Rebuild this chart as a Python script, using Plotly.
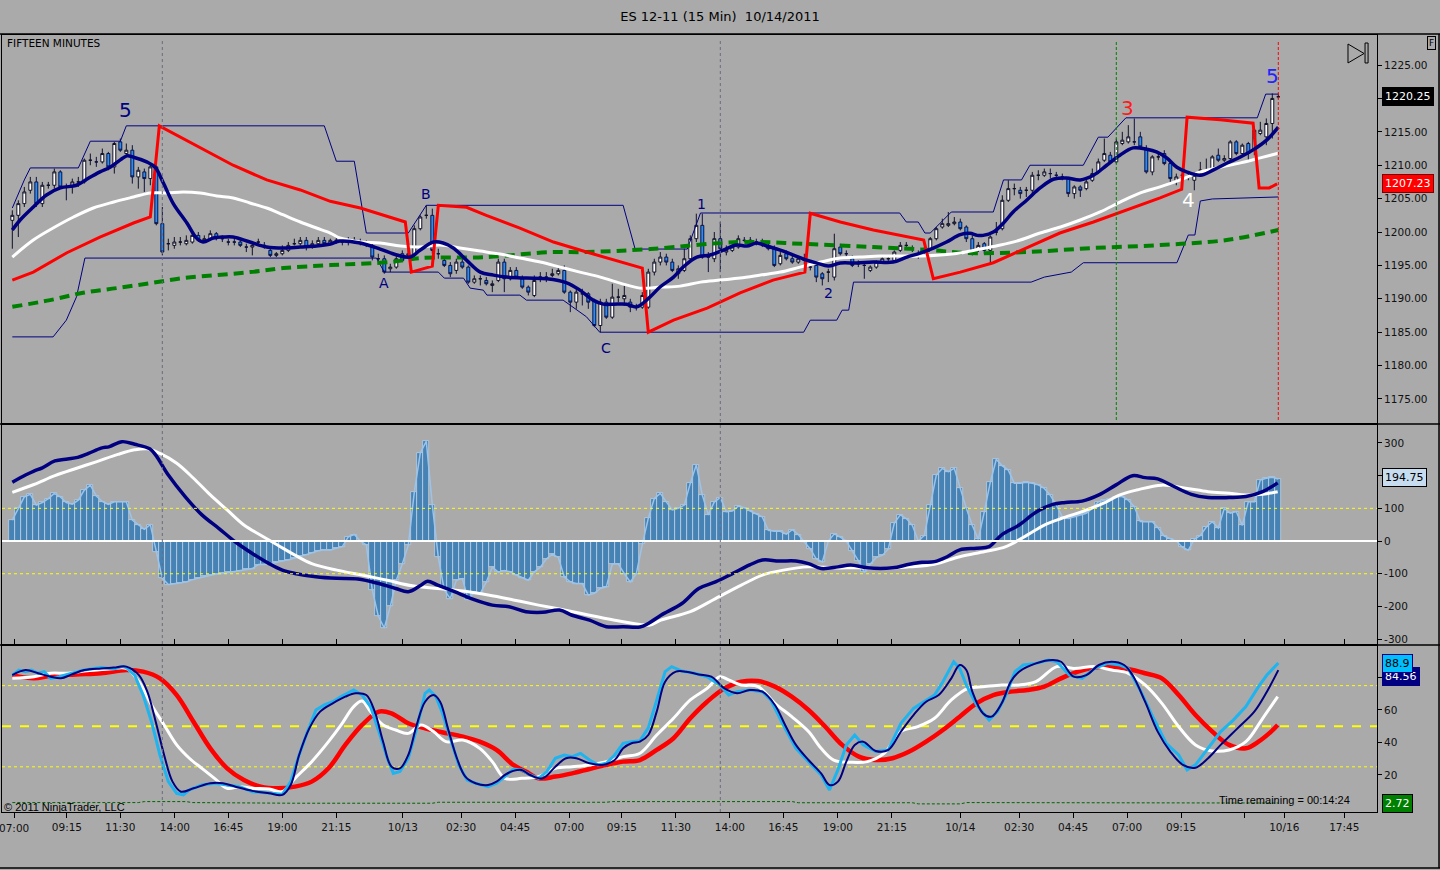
import plotly.graph_objects as go

# ---------------- data (x = 15-minute bar number) ----------------
bar_open = [
    1201.75, 1202.5, 1204.25, 1206.25, 1207.5, 1204.25, 1207.0, 1207.0, 1209.0, 1206.75,
    1207.0, 1207.5, 1207.5, 1210.75, 1210.5, 1210.5, 1211.75, 1209.75, 1213.5, 1211.75,
    1212.25, 1208.25, 1209.0, 1208.0, 1209.75, 1201.25, 1198.25, 1198.0, 1198.5, 1198.25,
    1198.5, 1199.5, 1198.75, 1199.0, 1199.75, 1199.0, 1198.5, 1198.5, 1198.5, 1197.75,
    1197.75, 1198.5, 1198.0, 1197.25, 1196.5, 1196.75, 1197.25, 1198.25, 1198.25, 1198.75,
    1197.75, 1198.25, 1198.75, 1198.25, 1198.75, 1198.5, 1198.5, 1198.75, 1198.5, 1198.25,
    1198.0, 1196.0, 1196.0, 1194.5, 1194.75, 1196.75, 1196.5, 1196.5, 1200.5, 1202.5,
    1202.5, 1196.75, 1195.75, 1195.0, 1194.25, 1195.5, 1194.75, 1192.5, 1193.0, 1192.75,
    1192.0, 1192.75, 1195.5, 1193.0, 1194.25, 1193.0, 1191.75, 1190.5, 1193.25, 1193.25,
    1193.5, 1193.75, 1194.25, 1191.0, 1189.5, 1190.75, 1190.75, 1189.75, 1186.0, 1189.5,
    1187.25, 1190.25, 1190.0, 1189.5, 1188.75, 1188.75, 1188.75, 1194.0, 1195.5, 1196.25,
    1195.5, 1193.75, 1194.25, 1196.0, 1199.0, 1201.0, 1196.25, 1196.0, 1199.0, 1197.0,
    1197.25, 1197.75, 1198.75, 1198.75, 1198.5, 1198.25, 1198.0, 1197.5, 1195.25, 1196.75,
    1196.0, 1195.5, 1195.75, 1194.75, 1195.0, 1193.75, 1194.0, 1193.25, 1197.75, 1196.75,
    1196.0, 1195.25, 1195.0, 1194.25, 1194.75, 1195.5, 1196.0, 1195.75, 1197.25, 1198.0,
    1197.5, 1196.75, 1197.25, 1197.5, 1199.0, 1200.75, 1201.0, 1201.25, 1201.5, 1200.75,
    1199.0, 1197.5, 1198.25, 1197.25, 1200.0, 1200.5, 1204.75, 1206.5, 1206.25, 1206.25,
    1206.25, 1208.5, 1208.5, 1208.75, 1208.5, 1208.25, 1208.0, 1205.75, 1206.75, 1206.5,
    1207.75, 1209.0, 1210.75, 1211.5, 1210.5, 1213.25, 1213.5, 1213.5, 1214.25, 1212.5,
    1209.0, 1211.25, 1211.75, 1210.25, 1207.75, 1208.5, 1208.25, 1207.75, 1209.25, 1209.25,
    1209.5, 1211.5, 1210.75, 1211.0, 1213.5, 1211.75, 1213.25, 1212.25, 1214.75, 1214.25,
    1216.25, 1220.25,
]
bar_high = [
    1203.25, 1204.75, 1206.75, 1208.25, 1208.25, 1207.5, 1207.5, 1209.5, 1209.25, 1207.25,
    1208.0, 1208.25, 1211.0, 1211.75, 1211.25, 1212.5, 1212.0, 1213.5, 1214.0, 1213.25,
    1213.0, 1209.75, 1209.5, 1210.25, 1210.5, 1203.75, 1199.0, 1199.25, 1199.25, 1199.5,
    1200.0, 1200.0, 1199.5, 1200.25, 1200.0, 1199.5, 1199.0, 1199.0, 1198.75, 1198.25,
    1198.5, 1199.0, 1198.5, 1197.75, 1197.0, 1198.0, 1198.5, 1199.0, 1199.25, 1199.25,
    1198.75, 1199.25, 1199.25, 1199.0, 1199.25, 1199.0, 1199.25, 1199.25, 1199.0, 1198.75,
    1198.25, 1196.75, 1196.5, 1195.25, 1196.5, 1197.25, 1197.25, 1201.0, 1202.5, 1204.0,
    1203.5, 1197.5, 1196.25, 1195.5, 1196.0, 1196.0, 1195.0, 1193.5, 1193.5, 1193.25,
    1192.75, 1196.0, 1196.0, 1194.75, 1194.75, 1193.5, 1192.0, 1193.5, 1194.0, 1194.0,
    1194.5, 1194.75, 1195.0, 1191.25, 1191.5, 1191.5, 1191.0, 1190.0, 1190.0, 1190.0,
    1192.25, 1191.5, 1192.0, 1190.0, 1189.25, 1191.0, 1194.5, 1196.0, 1197.0, 1196.75,
    1196.0, 1195.0, 1197.5, 1199.5, 1202.75, 1202.75, 1197.0, 1200.0, 1201.5, 1198.0,
    1198.25, 1199.5, 1199.25, 1199.25, 1199.0, 1199.0, 1198.5, 1198.0, 1197.0, 1197.25,
    1196.5, 1196.25, 1196.75, 1195.25, 1195.5, 1194.0, 1194.5, 1199.75, 1198.25, 1197.25,
    1196.5, 1195.75, 1195.5, 1195.0, 1195.75, 1196.25, 1196.5, 1197.25, 1198.5, 1198.5,
    1198.0, 1197.25, 1197.75, 1199.25, 1200.75, 1202.0, 1203.0, 1202.25, 1202.0, 1201.0,
    1199.5, 1198.5, 1198.5, 1199.5, 1201.5, 1205.5, 1207.75, 1207.25, 1206.75, 1206.75,
    1209.0, 1209.25, 1209.5, 1209.5, 1209.0, 1208.75, 1208.25, 1207.0, 1207.0, 1208.0,
    1209.5, 1211.0, 1214.0, 1212.0, 1214.0, 1215.0, 1216.0, 1217.0, 1215.0, 1213.0,
    1211.5, 1212.0, 1212.25, 1210.5, 1208.75, 1209.0, 1208.75, 1209.0, 1210.5, 1211.0,
    1211.5, 1212.5, 1211.5, 1213.75, 1213.75, 1213.25, 1213.5, 1215.75, 1216.5, 1217.0,
    1220.75, 1220.75,
]
bar_low = [
    1197.5, 1199.25, 1203.75, 1205.75, 1203.75, 1203.75, 1206.5, 1206.5, 1206.5, 1204.75,
    1205.75, 1206.75, 1207.25, 1210.0, 1209.75, 1210.25, 1209.25, 1208.75, 1212.0, 1211.5,
    1207.25, 1206.5, 1206.0, 1207.0, 1201.0, 1196.5, 1197.25, 1197.5, 1198.0, 1198.0,
    1198.25, 1198.5, 1198.5, 1198.75, 1198.75, 1198.5, 1198.0, 1198.0, 1197.75, 1197.0,
    1196.5, 1198.0, 1197.5, 1196.25, 1196.25, 1196.5, 1197.0, 1198.0, 1198.0, 1197.25,
    1197.5, 1198.0, 1198.0, 1198.0, 1198.25, 1198.0, 1198.0, 1198.25, 1198.0, 1197.75,
    1195.75, 1195.5, 1193.75, 1194.0, 1194.5, 1195.5, 1196.0, 1196.25, 1200.25, 1202.0,
    1196.75, 1196.0, 1194.75, 1193.25, 1193.75, 1194.5, 1192.25, 1192.25, 1192.0, 1192.0,
    1191.0, 1192.5, 1191.0, 1192.75, 1193.0, 1191.5, 1190.5, 1190.25, 1192.5, 1192.5,
    1193.25, 1193.5, 1190.75, 1188.0, 1188.5, 1189.0, 1188.5, 1185.75, 1185.0, 1187.0,
    1187.0, 1189.5, 1189.0, 1188.0, 1188.25, 1188.5, 1188.5, 1193.5, 1195.0, 1195.0,
    1194.0, 1193.0, 1194.0, 1195.75, 1198.5, 1196.0, 1194.0, 1195.5, 1194.0, 1196.5,
    1197.0, 1197.5, 1198.5, 1198.25, 1198.0, 1197.75, 1197.25, 1194.75, 1195.0, 1195.75,
    1195.25, 1195.25, 1195.0, 1194.25, 1192.5, 1192.0, 1192.5, 1192.75, 1196.5, 1196.25,
    1194.75, 1194.75, 1193.0, 1194.0, 1194.5, 1195.25, 1195.5, 1195.5, 1197.0, 1197.5,
    1197.0, 1196.0, 1196.75, 1197.25, 1198.75, 1200.5, 1200.75, 1201.0, 1200.25, 1198.5,
    1196.5, 1197.0, 1196.75, 1195.25, 1199.5, 1200.25, 1204.5, 1205.5, 1205.0, 1205.25,
    1205.75, 1207.75, 1208.25, 1208.0, 1208.0, 1207.75, 1205.25, 1205.0, 1205.25, 1206.25,
    1207.5, 1208.75, 1210.5, 1210.25, 1210.25, 1213.0, 1213.25, 1213.0, 1212.5, 1208.75,
    1208.5, 1210.75, 1210.0, 1207.25, 1207.0, 1207.0, 1207.75, 1206.25, 1208.75, 1208.75,
    1209.25, 1210.5, 1210.5, 1210.75, 1211.5, 1211.5, 1210.5, 1211.5, 1214.5, 1213.0,
    1214.0, 1220.0,
]
bar_close = [
    1202.5, 1204.25, 1206.0, 1207.5, 1204.25, 1207.0, 1207.0, 1209.0, 1206.75, 1206.75,
    1207.5, 1207.5, 1210.75, 1210.75, 1210.5, 1211.75, 1209.75, 1213.25, 1212.25, 1212.25,
    1208.25, 1209.25, 1208.0, 1209.75, 1201.25, 1197.0, 1198.25, 1198.5, 1198.5, 1198.75,
    1199.5, 1198.75, 1199.0, 1199.75, 1199.0, 1199.0, 1198.5, 1198.5, 1198.0, 1197.75,
    1198.0, 1198.5, 1198.0, 1196.5, 1196.75, 1197.25, 1198.0, 1198.25, 1198.75, 1197.75,
    1198.25, 1198.75, 1198.25, 1198.75, 1198.75, 1198.5, 1198.5, 1198.75, 1198.5, 1198.25,
    1196.25, 1196.0, 1194.0, 1194.75, 1196.0, 1195.75, 1196.75, 1200.5, 1202.25, 1202.5,
    1197.25, 1196.75, 1195.0, 1193.75, 1195.5, 1194.75, 1192.5, 1193.0, 1193.0, 1192.25,
    1192.25, 1195.5, 1193.0, 1194.25, 1193.25, 1191.75, 1191.0, 1192.75, 1193.25, 1193.25,
    1193.75, 1194.25, 1191.0, 1189.5, 1191.0, 1190.75, 1189.5, 1186.0, 1189.5, 1187.25,
    1190.25, 1190.25, 1190.5, 1188.75, 1188.75, 1190.5, 1194.0, 1195.5, 1196.25, 1195.5,
    1194.25, 1194.5, 1196.0, 1199.0, 1201.0, 1196.25, 1196.25, 1199.0, 1197.5, 1197.25,
    1197.75, 1199.0, 1198.75, 1198.75, 1198.5, 1198.25, 1197.5, 1195.0, 1196.5, 1196.0,
    1195.5, 1196.0, 1195.75, 1194.75, 1193.25, 1193.0, 1194.0, 1197.5, 1196.75, 1196.75,
    1195.0, 1195.25, 1195.0, 1194.75, 1195.5, 1196.0, 1196.0, 1197.0, 1198.0, 1198.0,
    1197.5, 1196.75, 1197.25, 1199.0, 1200.5, 1201.25, 1201.25, 1201.5, 1200.5, 1199.0,
    1197.25, 1198.0, 1197.25, 1199.25, 1200.0, 1204.75, 1206.5, 1206.5, 1205.75, 1206.25,
    1208.5, 1208.5, 1209.0, 1208.75, 1208.5, 1208.25, 1205.75, 1206.75, 1206.25, 1207.5,
    1208.75, 1210.5, 1211.75, 1210.5, 1213.5, 1213.75, 1214.25, 1213.5, 1212.75, 1209.0,
    1211.25, 1211.25, 1210.25, 1208.0, 1208.25, 1208.5, 1208.25, 1208.5, 1209.25, 1209.25,
    1211.25, 1210.75, 1211.0, 1213.5, 1211.75, 1213.0, 1211.75, 1215.25, 1215.25, 1216.25,
    1220.0, 1220.25,
]
bars = list(range(len(bar_close)))

# fast EMA (navy)
ema_x = [0, 1.3, 3.5, 5.7, 8, 10.7, 12.4, 14.6, 16.3, 18, 19.1, 20.2, 22.4, 23.8, 25.2, 26.8, 29.1,
         30.7, 31.8, 33.5, 35.2, 36.8, 39.6, 42.4, 45.2, 48, 50.7, 53, 54.6, 58, 61.3, 64.1, 66.3,
         68, 70.2, 71.8, 73.5, 75.7, 78, 80.2, 82.4, 85.7, 89.1, 92.4, 94.6, 96.8, 98.5, 100.2,
         102.4, 104.1, 106.3, 108, 110.2, 111.8, 114.1, 116.3, 118.5, 120.7, 122.4, 124.1, 125.7,
         128, 130.2, 132.4, 134.1, 136, 138, 140.7, 143.5, 146.8, 149.1, 151.3, 153.5, 155.7, 158,
         159.6, 160.8, 161.8, 163.5, 165.2, 166.8, 169.1, 171.3, 173.5, 175.7, 178, 180.2, 182.4,
         184.6, 186.8, 189.1, 190.7, 192.4, 194.1, 195.7, 198, 200.2, 202.4, 204.6, 206.8, 209.1, 211]
ema_y = [1200.3, 1201.8, 1203.75, 1205.55, 1206.6, 1207.0, 1207.9, 1209.0, 1209.7, 1210.8, 1211.4,
         1211.2, 1210.5, 1209.7, 1207.3, 1204.3, 1201.35, 1199.1, 1198.5, 1199.1, 1199.25, 1199.25,
         1198.5, 1197.75, 1197.6, 1197.75, 1197.9, 1198.2, 1198.65, 1198.35, 1197.45, 1196.55,
         1196.25, 1197.3, 1198.5, 1198.35, 1197.6, 1195.8, 1194.0, 1193.55, 1193.25, 1193.1, 1193.0,
         1192.4, 1191.3, 1189.8, 1189.2, 1189.2, 1189.2, 1188.8, 1190.3, 1191.8, 1193.25, 1194.75,
         1196.25, 1196.55, 1197.3, 1198.05, 1197.9, 1198.35, 1197.9, 1197.3, 1196.55, 1195.8,
         1195.35, 1194.9, 1195.35, 1195.35, 1195.5, 1195.5, 1196.25, 1196.85, 1197.6, 1198.5,
         1199.6, 1199.8, 1199.5, 1199.5, 1200.0, 1201.35, 1203.0, 1204.8, 1206.6, 1207.9, 1208.1,
         1207.8, 1208.5, 1210.0, 1211.5, 1212.6, 1212.4, 1212.0, 1211.1, 1209.7, 1209.0, 1208.5,
         1209.3, 1210.3, 1211.2, 1212.3, 1213.8, 1215.7]

# slower average (white)
sma_x = [0, 3.5, 6.8, 10.2, 13.5, 16.9, 20.2, 23, 25.7, 28.5, 31.3, 34.1, 36.8, 39.6, 42.4, 45.2, 48,
         50.7, 53, 54.6, 58, 61.3, 64.7, 68, 71.3, 74.6, 78, 81.3, 84.6, 88, 91.3, 94.6, 98, 101.3,
         104.6, 108, 111.3, 114.7, 118, 121.3, 124.7, 128, 131.3, 134.7, 138, 141.3, 144.7, 148,
         151.3, 154.7, 158, 161.3, 164.7, 168, 171.3, 174.7, 178, 181.3, 184.7, 188, 191.3, 194.7,
         198, 201.3, 204.7, 208, 211]
sma_y = [1196.25, 1198.8, 1200.6, 1202.25, 1203.6, 1204.5, 1205.25, 1205.85, 1205.85, 1206.0,
         1205.85, 1205.4, 1205.1, 1204.35, 1203.6, 1202.55, 1201.5, 1200.6, 1199.85, 1199.1, 1198.5,
         1198.35, 1197.9, 1197.75, 1198.05, 1197.6, 1197.15, 1196.7, 1196.1, 1195.5, 1194.75, 1194.0,
         1193.25, 1192.35, 1191.6, 1191.75, 1191.9, 1192.5, 1192.8, 1193.1, 1193.55, 1194.0, 1194.75,
         1195.5, 1196.1, 1196.25, 1196.4, 1196.4, 1196.4, 1196.55, 1196.85, 1197.45, 1198.05, 1198.8,
         1199.85, 1200.75, 1201.8, 1203.0, 1204.5, 1205.85, 1206.75, 1207.8, 1209.0, 1209.7,
         1210.35, 1211.1, 1211.8]

# long average (green dashed)
slow_x = [0, 6.3, 11.8, 17.4, 23, 28.5, 34.1, 39.6, 45.2, 53, 63, 68, 79, 89.6, 95.7, 106.3, 121.3,
          132.4, 143.5, 153, 159, 169, 180, 191.3, 202.4, 211]
slow_y = [1188.8, 1189.8, 1190.9, 1191.6, 1192.35, 1193.1, 1193.55, 1194.0, 1194.6, 1195.05, 1195.5,
          1196.1, 1196.25, 1197.0, 1197.0, 1197.45, 1198.5, 1198.2, 1197.75, 1197.3, 1196.85, 1197.0,
          1197.6, 1198.05, 1198.8, 1200.3]

# trailing stop (red)
stop_x = [0, 3.5, 9.1, 14.6, 20.2, 23, 24.5, 31.3, 36.8, 42.4, 48, 53, 58, 65.5, 66.5, 70, 71, 75.7,
          79, 84.6, 90.2, 95.7, 101.3, 105, 106, 110.2, 115.8, 121.3, 126.8, 132.1, 133, 138, 143.5,
          149.1, 151.9, 153.5, 158, 163.5, 169, 174.6, 180.2, 185.7, 191.3, 194.9, 195.8, 201.3,
          206.8, 207.8, 209.5, 210.8]
stop_y = [1192.8, 1194.0, 1196.9, 1199.25, 1201.35, 1202.25, 1215.9, 1212.7, 1210.0, 1207.8, 1206.3,
          1204.6, 1203.6, 1201.5, 1194.0, 1194.9, 1204.0, 1203.7, 1202.5, 1200.6, 1198.5, 1197.0,
          1195.5, 1194.6, 1185.0, 1186.8, 1188.6, 1190.9, 1192.8, 1194.0, 1202.8, 1201.5, 1200.3,
          1199.25, 1198.8, 1193.0, 1194.0, 1195.4, 1197.6, 1199.85, 1201.5, 1203.3, 1205.1, 1206.4,
          1217.2, 1216.8, 1216.3, 1206.6, 1206.6, 1207.2]

# price channel (thin navy)
upper_x = [0, 2, 3, 11, 13, 18, 19, 52, 54, 57, 59, 66, 69, 101.8, 103.8, 112.5, 114.7, 147.9, 149,
           151, 152.1, 153, 154, 156.5, 163.5, 165.2, 168.2, 169.6, 178.5, 181, 182.6, 185.6, 207.5,
           208.9, 211]
upper_y = [1203.6, 1207.8, 1209.6, 1209.6, 1213.6, 1213.6, 1215.9, 1215.9, 1210.6, 1210.6, 1199.85,
           1199.85, 1204.0, 1204.0, 1197.45, 1197.45, 1202.85, 1202.85, 1201.5, 1201.5, 1199.85,
           1199.85, 1200.75, 1203.0, 1203.0, 1207.8, 1207.8, 1210.0, 1210.0, 1214.2, 1214.2, 1217.1,
           1217.1, 1220.65, 1220.65]
lower_x = [0, 6.8, 9, 10.7, 12.1, 60.7, 62, 71, 72, 75.2, 76.3, 78.5, 79.1, 84.6, 85.7, 91.8, 95.7,
           97.9, 131.9, 133, 137.4, 138.3, 139.4, 140.2, 169.8, 172, 176.5, 178.5, 194.1, 196, 197.1,
           198, 200, 211]
lower_y = [1184.3, 1184.3, 1186.8, 1190.3, 1196.1, 1196.1, 1194.0, 1194.0, 1193.1, 1193.1, 1191.6,
           1191.3, 1190.55, 1190.55, 1189.8, 1189.8, 1187.3, 1185.0, 1185.0, 1186.8, 1186.8, 1188.3,
           1188.3, 1192.5, 1192.5, 1193.25, 1194.0, 1195.4, 1195.4, 1199.55, 1199.55, 1204.65,
           1204.95, 1205.25]

# oscillator histogram, one value per bar
osc_hist = [
    64, 100, 135, 143, 110, 118, 130, 146, 135, 118,
    113, 125, 156, 171, 138, 121, 112, 120, 120, 120,
    64, 50, 36, 50, -33, -114, -133, -131, -128, -125,
    -118, -114, -108, -104, -101, -99, -96, -94, -90, -86,
    -84, -72, -72, -70, -65, -62, -57, -53, -47, -43,
    -37, -30, -27, -27, -22, -17, 13, 20, 0, -12,
    -150, -230, -266, -200, -120, -70, -12, 150, 270, 305,
    110, -50, -150, -176, -120, -115, -180, -155, -160, -125,
    -80, -95, -90, -94, -104, -112, -120, -94, -80, -55,
    -40, -50, -110, -125, -130, -130, -165, -160, -145, -140,
    -70, -70, -100, -125, -100, -10, 70, 130, 146, 120,
    95, 100, 110, 177, 233, 141, 80, 120, 133, 90,
    92, 107, 102, 92, 82, 74, 33, 30, 30, 21,
    35, 20, -3, -24, -55, -64, 0, 22, 12, 0,
    -30, -60, -95, -70, -50, -44, -24, 55, 80, 69,
    48, 0, 17, 110, 202, 222, 212, 222, 161, 100,
    48, 5, 90, 180, 250, 230, 217, 177, 177, 180,
    177, 172, 161, 140, 110, 74, 69, 74, 80, 85,
    100, 120, 125, 130, 136, 136, 125, 105, 60, 59,
    59, 40, 15, 7, 0, -19, -28, 5, 17, 43,
    59, 40, 100, 85, 90, 48, 120, 120, 187, 192,
    195, 190,
]
osc_fast_x = [0, 2.2, 3.6, 5, 7.1, 9.2, 10.9, 12.7, 14.8, 16.2, 18.3, 20.4, 22.9, 23.9, 26, 28.8, 31.6,
              34.4, 37.2, 40, 42.8, 45, 47.1, 50.6, 54.1, 57.6, 61.1, 63.9, 66, 68.1, 69.2, 70.9,
              73.7, 76.5, 80, 82.8, 85.6, 88.4, 91.2, 93.3, 96.2, 99, 101.8, 104.6, 106, 108.1, 111.6,
              114.4, 117.2, 120.1, 122.9, 125, 127.8, 130.6, 132.7, 134.8, 137.6, 139.7, 142.5, 146.7,
              149.5, 151.6, 153.7, 155.8, 157.9, 160.7, 162.8, 164.9, 167.8, 170.6, 173.4, 175.5,
              178.3, 181.1, 183.9, 186.7, 188.8, 190.9, 193.7, 196.5, 199.3, 202.8, 205.6, 208.4, 210.9]
osc_fast_y = [180, 202, 214, 224, 245, 251, 256, 268, 284, 289, 304, 296, 282, 263, 202, 136, 80, 39,
              -3, -38, -69, -89, -99, -109, -114, -116, -130, -145, -155, -135, -123, -135, -155,
              -176, -196, -201, -216, -218, -211, -227, -242, -262, -262, -263, -252, -227, -191,
              -145, -125, -99, -73, -58, -61, -61, -69, -84, -79, -73, -82, -82, -71, -65, -63, -48,
              -27, -22, -17, 19, 49, 88, 112, 118, 122, 141, 171, 200, 194, 190, 166, 143, 133, 133,
              136, 151, 178]
osc_slow_x = [0, 3.6, 7.1, 10.6, 14.1, 17.6, 20.4, 22.5, 24.6, 27.4, 30.2, 33, 35.8, 38.6, 41.4, 44.2,
              47.1, 49.9, 54.1, 58.3, 62.5, 66.7, 70.9, 75.1, 79.3, 83.5, 87.7, 92, 96.2, 100.4,
              104.6, 106.3, 108.1, 113, 117.2, 121.5, 125, 128.5, 132.7, 136.9, 141.1, 145.3, 149.5,
              153.7, 157.9, 162.1, 165.6, 169.2, 172, 174.8, 178.3, 181.8, 184.6, 187.4, 191.6,
              195.8, 199.3, 202.8, 205.6, 208.4, 210.9]
osc_slow_y = [149, 173, 200, 222, 243, 265, 279, 282, 268, 238, 192, 141, 95, 49, 18, -12, -43, -69,
              -89, -104, -120, -137, -145, -153, -165, -180, -196, -211, -227, -242, -255, -257,
              -242, -216, -176, -135, -104, -89, -79, -82, -82, -84, -79, -71, -48, -32, -17, 19, 49,
              69, 90, 115, 141, 156, 171, 161, 151, 146, 141, 143, 151]

# stochastics
stk_fast_x = [0, 1.1, 2.2, 3.2, 4.3, 5.3, 6.4, 7.8, 9.9, 12, 14.8, 16.9, 18.3, 19, 20.4, 21.8, 23.2,
              24.6, 26, 27.4, 28.5, 29.5, 31.6, 33.7, 35.8, 37.9, 40, 42.8, 45, 46.4, 47.8, 49.2,
              50.6, 52, 53.4, 54.8, 56.9, 58.3, 59.7, 61.1, 62.5, 63.5, 64.6, 66, 67.4, 68.8, 69.5,
              70.6, 71.6, 73, 74.4, 75.8, 77.2, 79.3, 80.7, 82.1, 83.5, 84.9, 86.3, 87.7, 89.1, 90.5,
              92, 93.3, 94.7, 96.2, 97.6, 99, 100.4, 101.8, 103.2, 104.6, 106, 107.4, 108.8, 109.9,
              111.6, 113.7, 115.8, 117.9, 119.4, 120.8, 122.9, 125, 126.4, 128.5, 130.6, 132.7,
              134.8, 136.2, 137.6, 139, 140.4, 141.8, 143.9, 146, 148.1, 150.2, 152.3, 153.7, 155.1,
              156.9, 157.9, 159, 160.7, 162.8, 164.2, 165.6, 167.1, 168.5, 170.6, 172.7, 174.1,
              176.2, 178.3, 180.4, 182.5, 184.6, 186, 188.1, 190.2, 192.3, 194.4, 195.8, 197.2,
              199.3, 201.4, 203.5, 205.6, 207.7, 209.1, 211]
stk_fast_y = [81.5, 84.6, 83.6, 84.6, 82.6, 83.6, 79.5, 80.5, 82.6, 84.6, 86.1, 85.2, 86.7, 86.1,
              81.5, 69.2, 52.8, 32.3, 15.9, 8.7, 7.7, 10.8, 13.8, 14.9, 13.8, 12.8, 9.7, 8.7, 8.1,
              15.9, 32.3, 46.7, 60.0, 63.1, 65.1, 68.2, 72.3, 69.2, 62.1, 46.7, 30.3, 21.0, 22.1,
              30.3, 48.7, 70.3, 72.3, 68.2, 59.0, 42.6, 26.2, 16.9, 14.9, 12.8, 14.9, 19.0, 23.7,
              23.1, 20.0, 17.9, 22.1, 30.3, 32.3, 31.3, 33.3, 29.2, 26.2, 27.2, 32.3, 39.5, 40.5,
              41.0, 49.0, 66.0, 83.6, 86.7, 84.0, 82.6, 80.5, 75.4, 69.2, 71.3, 72.3, 71.3, 66.2,
              50.8, 36.4, 28.2, 20.0, 10.8, 23.1, 38.5, 44.6, 38.5, 34.4, 35.4, 51.8, 61.0, 66.2,
              69.2, 77.4, 89.7, 85.6, 75.4, 63.1, 53.8, 59.0, 69.2, 83.6, 87.7, 88.7, 90.8, 89.7,
              81.5, 79.5, 85.6, 88.7, 87.7, 85.6, 71.3, 54.9, 39.5, 32.3, 23.1, 26.2, 36.4, 46.7,
              53.8, 62.1, 74.4, 81.5, 88.9]
stk_k_x = [0, 2.2, 4.3, 6.4, 8.1, 9.9, 12, 14.8, 16.9, 19, 21.1, 22.5, 23.9, 25.3, 26.7, 28.1, 30.2,
           33, 35.1, 37.2, 40, 42.8, 45, 46.4, 47.8, 49.5, 51.3, 53.4, 55.5, 57.2, 59, 60.4, 61.8,
           63.2, 64.6, 66, 67.4, 68.8, 70.2, 71.3, 72.6, 74.1, 75.5, 77.2, 79.3, 80.7, 82.1, 83.5,
           84.9, 86.3, 88.4, 90.5, 92.3, 94, 96.2, 98.3, 100.4, 101.8, 103.2, 104.6, 106, 107.4,
           108.8, 110.6, 112.3, 114.4, 116.5, 118.7, 120.8, 122.9, 125, 127.1, 128.8, 130.6, 132.7,
           134.8, 136.2, 137.6, 139, 140.4, 141.8, 143.9, 146, 148.1, 150.2, 152.3, 154.4, 156.5,
           157.9, 159, 160, 161.8, 163.2, 164.9, 166.4, 167.8, 170.6, 173.4, 174.8, 176.9, 179,
           181.1, 183.2, 185.3, 186.7, 188.8, 190.9, 193, 195.1, 197.2, 199.3, 201.4, 204.2, 207,
           209.1, 211]
stk_k_y = [81.5, 84.6, 82.6, 80.5, 79.5, 81.9, 84.6, 85.6, 86.1, 86.7, 81.5, 71.3, 52.8, 32.3, 15.9,
           9.7, 11.8, 14.9, 14.9, 12.8, 10.2, 8.7, 7.7, 13.8, 32.3, 48.7, 59.0, 64.1, 68.2, 70.3,
           69.2, 59.0, 40.5, 25.1, 24.1, 32.3, 50.8, 65.1, 69.2, 65.1, 48.7, 30.3, 19.0, 14.9, 13.8,
           15.9, 20.0, 22.5, 23.1, 20.0, 17.9, 25.1, 30.3, 30.3, 27.2, 26.2, 29.2, 36.4, 39.5, 40.5,
           44.6, 59.0, 77.4, 83.6, 83.6, 81.9, 80.5, 73.3, 70.3, 72.3, 71.3, 63.1, 50.8, 38.5, 29.2,
           21.0, 13.8, 15.9, 28.2, 38.5, 40.5, 34.8, 35.4, 46.7, 56.9, 65.1, 69.2, 79.5, 87.7, 84.6,
           71.3, 57.9, 55.9, 64.1, 77.4, 83.6, 88.7, 90.8, 89.7, 80.5, 81.5, 87.7, 89.7, 87.7, 81.5,
           65.1, 46.7, 34.4, 26.2, 24.5, 30.3, 38.5, 48.7, 59.0, 71.3, 84.56]
stk_d_x = [0, 3.6, 6.4, 9.2, 12, 16.2, 19, 21.1, 23.2, 25.3, 27.4, 29.5, 31.6, 33.7, 35.8, 37.9, 40,
           42.8, 45, 47.1, 49.9, 52.7, 54.8, 56.9, 58.3, 59.7, 61.8, 63.9, 66, 68.1, 70.2, 72.3,
           75.1, 77.9, 80, 82.1, 84.9, 87.7, 90.5, 93.3, 96.2, 99, 101.8, 104.6, 107.4, 110.2, 113,
           115.8, 117.9, 119.4, 121.5, 124.3, 127.1, 129.9, 132.7, 134.8, 136.9, 139.7, 142.5,
           145.3, 148.1, 150.9, 153.7, 156.5, 159.3, 162.1, 164.9, 167.8, 170.6, 174.1, 176.9,
           180.4, 183.2, 186, 188.8, 191.6, 194.4, 197.2, 200, 202.8, 205.6, 208.4, 210.9]
stk_d_y = [79.5, 80.5, 82.6, 82.6, 84.0, 85.2, 85.6, 77.4, 63.1, 50.8, 38.5, 30.3, 24.1, 17.9, 11.8,
           12.8, 11.8, 11.4, 9.7, 17.9, 28.2, 40.5, 50.8, 62.1, 65.5, 59.0, 50.8, 47.7, 45.6, 50.8,
           46.7, 40.5, 41.5, 36.4, 28.2, 17.9, 17.9, 19.0, 24.1, 25.1, 26.2, 28.2, 31.3, 33.4, 44.6,
           54.9, 66.2, 73.3, 80.5, 78.5, 75.4, 74.4, 64.1, 55.9, 46.7, 36.4, 29.2, 27.8, 28.2, 33.3,
           46.7, 49.7, 54.9, 66.2, 73.3, 74.4, 75.4, 75.4, 77.4, 86.7, 85.6, 86.7, 84.6, 82.6, 75.4,
           64.1, 49.7, 38.5, 34.8, 35.4, 40.5, 54.9, 68.2]
stk_s_x = [0, 3.6, 6.4, 10.6, 14.8, 19, 21.8, 24.6, 27.4, 30.2, 33, 35.8, 38.6, 41.4, 44.2, 47.1,
           49.9, 52.7, 55.5, 58.3, 61.1, 63.2, 66, 68.8, 71.6, 75.1, 77.9, 80.7, 83.5, 85.6, 87.7,
           90.5, 93.3, 96.2, 99, 101.8, 104.6, 107.4, 110.2, 113, 115.8, 118.7, 121.5, 124.3, 127.1,
           129.9, 132.7, 135.5, 138.3, 141.1, 143.9, 146.7, 149.5, 152.3, 155.1, 157.9, 160.7,
           163.5, 166.4, 169.2, 172, 174.8, 177.6, 180.4, 183.2, 186, 188.8, 191.6, 194.4, 197.2,
           200, 202.8, 205.6, 207.7, 209.8, 210.9]
stk_s_y = [81.5, 79.5, 81.1, 81.9, 82.6, 84.6, 83.6, 79.5, 69.2, 52.8, 36.4, 24.1, 16.9, 12.8, 11.8,
           12.8, 15.9, 24.1, 38.5, 50.8, 59.0, 57.9, 51.8, 48.7, 46.3, 43.6, 40.5, 35.4, 26.2, 22.1,
           17.9, 19.0, 21.0, 23.7, 26.2, 28.2, 29.2, 35.4, 42.6, 54.9, 65.1, 73.3, 77.4, 77.8, 74.4,
           68.2, 60.0, 49.7, 38.5, 31.3, 29.2, 30.3, 34.4, 40.5, 47.7, 55.9, 64.1, 69.2, 71.3, 72.3,
           74.4, 79.5, 83.6, 86.1, 86.7, 85.2, 82.6, 79.5, 69.2, 56.9, 46.7, 38.5, 36.4, 40.5, 46.7,
           50.8]
stk_low_x = [0, 21, 22, 29, 30, 47, 70, 71, 99, 100, 130, 131, 150, 151, 158, 159, 211]
stk_low_y = [3.0, 3.0, 3.6, 3.6, 3.0, 2.6, 2.6, 3.2, 3.2, 3.6, 3.6, 2.9, 2.9, 2.2, 2.2, 3.0, 2.72]

tick_pos = [0.3, 9.1, 18, 27.1, 36, 45, 54, 65.1, 74.8, 83.8, 92.8, 101.6, 110.6, 119.6, 128.5,
            137.6, 146.6, 158, 167.8, 176.8, 185.8, 194.8, 205.3, 212, 222]
tick_text = ['', '09:15', '11:30', '14:00', '16:45', '19:00', '21:15', '10/13', '02:30', '04:45',
             '07:00', '09:15', '11:30', '14:00', '16:45', '19:00', '21:15', '10/14', '02:30', '04:45',
             '07:00', '09:15', '', '10/16', '17:45']
first_tick_text = '07:00'   # drawn separately, it runs off the left edge
# right-hand scales (labels hidden where a value tag covers them)
price_ticks = [1175, 1180, 1185, 1190, 1195, 1200, 1205, 1210, 1215, 1220, 1225]
price_text = ['1175.00', '1180.00', '1185.00', '1190.00', '1195.00', '1200.00', '1205.00', '1210.00',
              '1215.00', '', '1225.00']
osc_ticks = [-300, -200, -100, 0, 100, 200, 300]
osc_text = ['-300', '-200', '-100', '0', '100', '', '300']
stk_ticks = [20, 40, 60, 80]
stk_text = ['20', '40', '60', '']

wave_labels = ['5', 'A', 'B', 'C', '1', '2', '3', '4', '5']
wave_x = [18.8, 62, 69, 99, 114.8, 136, 185.8, 196, 210]
wave_y = [1218.3, 1192.4, 1205.7, 1182.6, 1204.2, 1190.9, 1218.6, 1204.8, 1223.4]
wave_colors = ['#000080', '#000080', '#000080', '#000080', '#000080', '#000080', '#ff1a1a', 'white', '#2323ff']
wave_sizes = [20, 14, 14, 14, 14, 14, 20, 20, 20]

# ---------------- figure ----------------
BG = '#aaaaaa'
FONT = 'DejaVu Sans'

fig = go.Figure()

# price panel
fig.add_trace(go.Scatter(x=upper_x, y=upper_y, mode='lines', line=dict(color='#000080', width=1), yaxis='y'))
fig.add_trace(go.Scatter(x=lower_x, y=lower_y, mode='lines', line=dict(color='#000080', width=1), yaxis='y'))
fig.add_trace(go.Scatter(x=slow_x, y=slow_y, mode='lines', line=dict(color='#008000', width=4, dash='10px,6px'),
                         line_shape='spline', yaxis='y'))
fig.add_trace(go.Scatter(x=sma_x, y=sma_y, mode='lines', line=dict(color='white', width=3), line_shape='spline', yaxis='y'))
fig.add_trace(go.Scatter(x=stop_x, y=stop_y, mode='lines', line=dict(color='#ff0000', width=3), yaxis='y'))
fig.add_trace(go.Candlestick(
    x=bars, open=bar_open, high=bar_high, low=bar_low, close=bar_close, yaxis='y',
    increasing=dict(fillcolor='white', line=dict(color='#101028', width=1)),
    decreasing=dict(fillcolor='#1e90ff', line=dict(color='#101040', width=1)),
    whiskerwidth=0,
))
fig.add_trace(go.Scatter(x=ema_x, y=ema_y, mode='lines', line=dict(color='#000080', width=3.5),
                         line_shape='spline', yaxis='y'))

# oscillator panel
fig.add_trace(go.Bar(x=bars, y=osc_hist, width=1, marker=dict(color='#4682b4', line=dict(color='#c4d8ec', width=0.7)),
                     yaxis='y2'))
fig.add_trace(go.Scatter(x=bars, y=osc_hist, mode='lines', line=dict(color='#9cc4ea', width=1.5), yaxis='y2'))
fig.add_trace(go.Scatter(x=osc_slow_x, y=osc_slow_y, mode='lines', line=dict(color='white', width=3),
                         line_shape='spline', yaxis='y2'))
fig.add_trace(go.Scatter(x=osc_fast_x, y=osc_fast_y, mode='lines', line=dict(color='#000080', width=3.5),
                         line_shape='spline', yaxis='y2'))

# stochastic panel
fig.add_trace(go.Scatter(x=stk_low_x, y=stk_low_y, mode='lines', line=dict(color='#006400', width=1, dash='3px,2px'),
                         yaxis='y3'))
fig.add_trace(go.Scatter(x=stk_s_x, y=stk_s_y, mode='lines', line=dict(color='#ff0000', width=4.5),
                         line_shape='spline', yaxis='y3'))
fig.add_trace(go.Scatter(x=stk_d_x, y=stk_d_y, mode='lines', line=dict(color='white', width=3),
                         line_shape='spline', yaxis='y3'))
fig.add_trace(go.Scatter(x=stk_fast_x, y=stk_fast_y, mode='lines', line=dict(color='#1eb4f0', width=3),
                         yaxis='y3'))
fig.add_trace(go.Scatter(x=stk_k_x, y=stk_k_y, mode='lines', line=dict(color='#000080', width=2),
                         line_shape='spline', yaxis='y3'))

axis_font = dict(family=FONT, size=10.5, color='#111111')
yax = dict(side='right', anchor='x', showgrid=False, zeroline=False, showline=True, mirror=True,
           linecolor='black', linewidth=1, ticks='outside', ticklen=4, tickcolor='black', tickfont=axis_font)

fig.update_layout(
    width=1440, height=870,
    margin=dict(l=2, r=63, t=35, b=58),
    paper_bgcolor=BG, plot_bgcolor=BG,
    showlegend=False, hovermode=False,
    title=dict(text='ES 12-11 (15 Min)  10/14/2011', x=0.5, xanchor='center', y=0.981, yanchor='middle',
               font=dict(family=FONT, size=13, color='black')),
    xaxis=dict(domain=[0, 1], range=[-1.72, 227.45], anchor='y3', tickvals=tick_pos, ticktext=tick_text,
               ticks='outside', ticklen=5, tickcolor='black', showgrid=False, zeroline=False,
               showline=True, linecolor='black', mirror='all', rangeslider=dict(visible=False),
               tickfont=axis_font, tickangle=0),
    yaxis=dict(yax, domain=[0.5006, 1.0], range=[1171.4, 1229.5], tickvals=price_ticks, ticktext=price_text),
    yaxis2=dict(yax, domain=[0.2149, 0.4981], range=[-318, 355], tickvals=osc_ticks, ticktext=osc_text),
    yaxis3=dict(yax, domain=[0, 0.2149], range=[-2.8, 100], tickvals=stk_ticks, ticktext=stk_text),
    bargap=0,
)

# guide lines
for v in [100, -100]:
    fig.add_shape(type='line', xref='paper', yref='y2', x0=0, x1=1, y0=v, y1=v, line=dict(color='#ffff00', width=1, dash='dot'))
fig.add_shape(type='line', xref='paper', yref='y2', x0=0, x1=1, y0=0, y1=0, line=dict(color='white', width=2))
for v, d, w in [(75, 'dot', 1), (50, 'dash', 2), (25, 'dot', 1)]:
    fig.add_shape(type='line', xref='paper', yref='y3', x0=0, x1=1, y0=v, y1=v, line=dict(color='#ffff00', width=w, dash=d),
                  layer='below')

# session markers
for xv in [25, 118]:
    fig.add_shape(type='line', xref='x', yref='paper', x0=xv, x1=xv, y0=0, y1=0.9936,
                  line=dict(color='#6a6c80', width=1, dash='dot'))
fig.add_shape(type='line', xref='x', yref='paper', x0=184, x1=184, y0=0.5045, y1=0.9936,
              line=dict(color='#008000', width=1, dash='3px,2px'))
fig.add_shape(type='line', xref='x', yref='paper', x0=211, x1=211, y0=0.5045, y1=0.9936,
              line=dict(color='#ff0000', width=1, dash='3px,2px'))

# frame lines across the full window
for yv in [1.0013, 0.4994, 0.2149, -0.0721]:
    fig.add_shape(type='line', xref='paper', yref='paper', x0=-0.0015, x1=1.0458, y0=yv, y1=yv,
                  line=dict(color='black', width=1.5))
fig.add_shape(type='line', xref='paper', yref='paper', x0=1.0451, x1=1.0451, y0=-0.0721, y1=1.0013,
              line=dict(color='black', width=1.5))
# "jump to end" button
fig.add_shape(type='path', xref='paper', yref='paper', path='M 0.9789,0.9884 L 0.9789,0.9640 L 0.9906,0.9762 Z',
              line=dict(color='black', width=1))
fig.add_shape(type='rect', xref='paper', yref='paper', x0=0.9913, x1=0.9935, y0=0.9640, y1=0.9897,
              line=dict(color='black', width=1))

ann = []
for t, xv, yv, c, s in zip(wave_labels, wave_x, wave_y, wave_colors, wave_sizes):
    ann.append(dict(text=t, x=xv, y=yv, xref='x', yref='y', showarrow=False, font=dict(family=FONT, size=s, color=c)))

ann += [
    dict(text='FIFTEEN MINUTES', x=0.002, y=0.9897, xref='paper', yref='paper', xanchor='left', yanchor='middle',
         showarrow=False, font=dict(family=FONT, size=10.5, color='black')),
    dict(text='© 2011 NinjaTrader, LLC', x=0.0, y=0.0064, xref='paper', yref='paper', xanchor='left', yanchor='middle',
         showarrow=False, font=dict(family='Liberation Sans', size=11, color='black')),
    dict(text='Time remaining = 00:14:24', x=0.9324, y=0.0154, xref='paper', yref='paper', xanchor='center',
         yanchor='middle', showarrow=False, font=dict(family='Liberation Sans', size=11, color='black')),
    dict(text='F', x=1.0393, y=0.9897, xref='paper', yref='paper', xanchor='center', yanchor='middle', showarrow=False,
         bordercolor='black', borderwidth=1, borderpad=1, font=dict(family=FONT, size=9, color='black')),
    dict(text=first_tick_text, x=tick_pos[0], y=-0.0206, xref='x', yref='paper', xanchor='center', yanchor='middle',
         showarrow=False, font=axis_font),
]
tags = [
    ('1220.25', 'y', 1220.25, 'black', 'white', 'black'),
    ('1207.23', 'y', 1207.23, '#ff0000', 'white', '#800000'),
    ('194.75', 'y2', 194.75, '#c8dcf0', 'black', 'black'),
    ('84.56', 'y3', 80.5, '#000080', 'white', '#000080'),
    ('88.9', 'y3', 88.9, '#00bfff', 'black', '#000080'),
    ('2.72', 'y3', 2.72, '#008000', 'white', 'black'),
]
for t, ya, yv, bg, fc, bc in tags:
    ann.append(dict(text=t, x=1, y=yv, xref='paper', yref=ya, xanchor='left', yanchor='middle', xshift=5,
                    showarrow=False, bgcolor=bg, bordercolor=bc, borderwidth=1, borderpad=2,
                    font=dict(family=FONT, size=11, color=fc)))
fig.update_layout(annotations=ann)

fig.write_html("out.html", config={'displayModeBar': False},
               post_script="document.body.style.margin='0';document.body.style.overflow='hidden';")
